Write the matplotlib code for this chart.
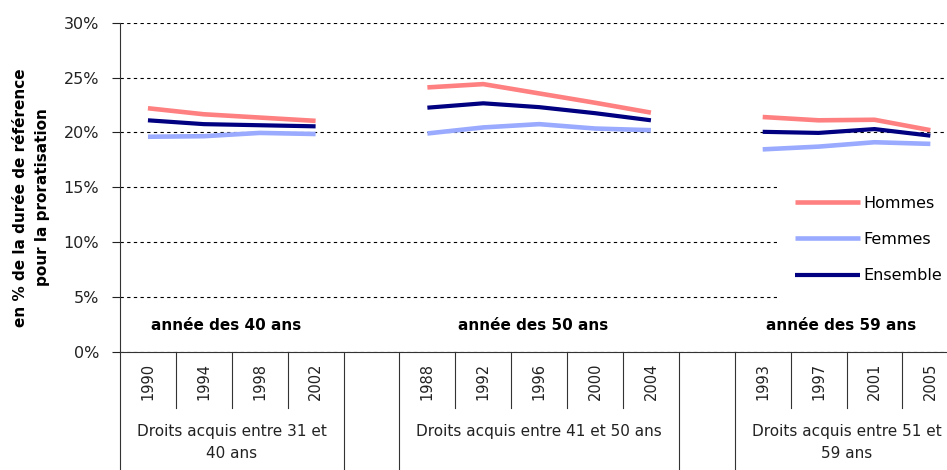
import matplotlib
matplotlib.use("Agg")
import matplotlib.pyplot as plt
from matplotlib.ticker import FuncFormatter

# categories (three cohorts, separated by an empty slot)
years_g1 = ["1990", "1994", "1998", "2002"]
years_g2 = ["1988", "1992", "1996", "2000", "2004"]
years_g3 = ["1993", "1997", "2001", "2005"]
group_labels = [
    "Droits acquis entre 31 et\n40 ans",
    "Droits acquis entre 41 et 50 ans",
    "Droits acquis entre 51 et\n59 ans",
]
age_labels = ["année des 40 ans", "année des 50 ans", "année des 59 ans"]

# values in % of the reference duration
hommes_g1 = [22.2, 21.65, 21.35, 21.05]
femmes_g1 = [19.6, 19.65, 19.95, 19.85]
ensemble_g1 = [21.1, 20.75, 20.65, 20.55]

hommes_g2 = [24.1, 24.4, 23.55, 22.7, 21.8]
femmes_g2 = [19.9, 20.45, 20.75, 20.35, 20.2]
ensemble_g2 = [22.25, 22.65, 22.3, 21.75, 21.1]

hommes_g3 = [21.4, 21.1, 21.15, 20.2]
femmes_g3 = [18.45, 18.7, 19.1, 18.95]
ensemble_g3 = [20.05, 19.95, 20.3, 19.7]

years = [years_g1, years_g2, years_g3]
hommes = [hommes_g1, hommes_g2, hommes_g3]
femmes = [femmes_g1, femmes_g2, femmes_g3]
ensemble = [ensemble_g1, ensemble_g2, ensemble_g3]

C_HOMMES = "#ff8080"
C_FEMMES = "#99aaff"
C_ENSEMBLE = "#000080"

fig = plt.figure(figsize=(9.47, 4.70), dpi=100)
ax = fig.add_axes([120 / 947, 118.3 / 470, 838.3 / 947, 329 / 470])

# start index of each group on the category axis
starts = []
pos = 0
for g in years:
    starts.append(pos)
    pos += len(g) + 1
n_cat = pos - 1

for i, g in enumerate(years):
    xs = [starts[i] + k for k in range(len(g))]
    ax.plot(xs, hommes[i], color=C_HOMMES, lw=3.3, solid_capstyle="butt",
            label="Hommes" if i == 0 else None, zorder=3)
    ax.plot(xs, femmes[i], color=C_FEMMES, lw=3.3, solid_capstyle="butt",
            label="Femmes" if i == 0 else None, zorder=3)
    ax.plot(xs, ensemble[i], color=C_ENSEMBLE, lw=3.0, solid_capstyle="butt",
            label="Ensemble" if i == 0 else None, zorder=4)

ax.set_xlim(-0.5, n_cat - 0.5)
ax.set_ylim(0, 30)
ax.set_yticks(range(0, 31, 5))
ax.yaxis.set_major_formatter(FuncFormatter(lambda v, p: f"{v:.0f}%"))
ax.tick_params(axis="y", length=6, width=0.8, pad=9, labelsize=11.5, colors="#222222")
ax.set_xticks([])
ax.yaxis.grid(True, linestyle=(0, (3, 3)), color="black", lw=0.8)
ax.set_axisbelow(True)
for s in ["top", "right"]:
    ax.spines[s].set_visible(False)
ax.spines["left"].set_color("#333333")
ax.spines["bottom"].set_color("#333333")

# multi-level category axis: separators, years, group names
trans = ax.get_xaxis_transform()
for i, g in enumerate(years):
    first = starts[i] - 0.5
    last = starts[i] + len(g) - 0.5
    for b in range(1, len(g)):
        ax.plot([first + b] * 2, [0, -0.171], color="#333333", lw=0.8,
                transform=trans, clip_on=False)
    for b in (first, last):
        ax.plot([b, b], [0, -0.37], color="#333333", lw=0.8,
                transform=trans, clip_on=False)
    for k, y in enumerate(g):
        ax.text(starts[i] + k, -0.09, y, rotation=90, ha="center", va="center",
                fontsize=10.5, transform=trans, color="#222222")
    center = starts[i] + (len(g) - 1) / 2
    ax.text(center, -0.22, group_labels[i], ha="center", va="top", fontsize=11,
            linespacing=1.6, transform=trans, color="#222222")
    ax.text(center - 0.1, 2.4, age_labels[i], ha="center", va="center",
            fontsize=11, fontweight="bold")

fig.text(31.7 / 947, (470 - 197.5) / 470,
         "en % de la durée de référence\npour la proratisation",
         rotation=90, ha="center", va="center", fontsize=11, fontweight="bold",
         linespacing=1.55)

leg = ax.legend(loc="upper left", bbox_to_anchor=(777 / 947, (470 - 178) / 470),
                bbox_transform=fig.transFigure, frameon=True, fancybox=False,
                framealpha=1, edgecolor="white", fontsize=11.5, handlelength=4.1,
                handletextpad=0.2, labelspacing=1.34, borderpad=1.1,
                borderaxespad=0)
leg.get_frame().set_linewidth(0)

fig.savefig("out.png", dpi=100)
